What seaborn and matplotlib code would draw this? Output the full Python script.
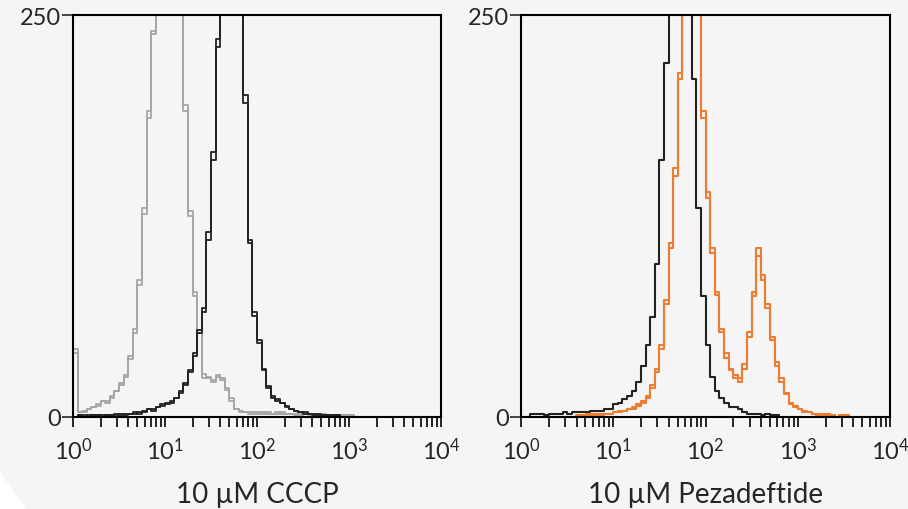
import numpy as np
import pandas as pd
import matplotlib
matplotlib.use("Agg")
import matplotlib.pyplot as plt
import matplotlib.ticker as mticker
from matplotlib.patches import Polygon
import seaborn as sns

# histogram bins are 1/20 decade wide; each series lists counts from its first bin (log10 start)
BIN = 0.05

cccp_gray_start = 0.00
cccp_gray_a = [42, 3, 4, 5, 6, 8, 10, 9, 13, 16, 20, 26, 38, 55, 85, 130, 190, 240, 290, 330,
               340, 320, 290, 260, 190, 125, 75, 52, 24, 25, 22, 26, 24, 18, 12, 5, 4, 3, 3, 2,
               3, 2, 3, 2, 2, 3, 2, 2, 2, 1, 2, 2, 1, 1, 2, 1, 1, 1, 1, 1, 1]
cccp_gray_b = [40, 3, 3, 5, 6, 7, 10, 10, 12, 16, 21, 25, 36, 52, 82, 126, 186, 238, 288, 332,
               342, 322, 292, 258, 194, 128, 78, 54, 27, 24, 23, 25, 23, 17, 10, 5, 3, 3, 2, 3,
               2, 3, 2, 2, 3, 2, 2, 2, 1, 2, 2, 1, 1, 2, 1, 1, 1, 1, 1, 1, 1]

cccp_ctrl_start = 0.05
cccp_ctrl_a = [1, 1, 0, 1, 1, 1, 1, 1, 1, 2, 1, 2, 3, 2, 4, 5, 4, 6, 7, 8,
               9, 12, 15, 20, 28, 38, 52, 65, 110, 160, 230, 290, 330, 345, 335, 300, 200, 110, 65, 48,
               30, 18, 13, 11, 9, 7, 5, 4, 3, 3, 2, 2, 1, 1, 1, 1, 1]
cccp_ctrl_b = [1, 0, 1, 1, 1, 0, 1, 1, 2, 1, 2, 2, 2, 3, 3, 5, 5, 6, 8, 9,
               10, 12, 16, 21, 29, 40, 54, 68, 115, 165, 235, 295, 332, 342, 332, 295, 195, 108, 63, 46,
               29, 19, 12, 10, 9, 6, 5, 4, 3, 2, 2, 1, 2, 1, 1, 0, 1]

pez_ctrl_start = 0.10
pez_ctrl = [2, 2, 2, 1, 2, 2, 2, 3, 2, 3, 3, 3, 3, 4, 4, 4, 5, 5, 8, 9,
            11, 13, 16, 22, 32, 45, 62, 95, 160, 220, 280, 330, 350, 330, 270, 210, 130, 75, 45, 25,
            16, 12, 9, 6, 6, 5, 3, 2, 2, 2, 1, 2, 1, 1]

pez_orange_start = 0.60
pez_orange_a = [1, 1, 2, 1, 2, 1, 2, 2, 3, 3, 4, 5, 5, 7, 9, 12, 18, 28, 42, 70,
                105, 150, 210, 280, 320, 330, 270, 190, 140, 105, 78, 55, 40, 30, 24, 22, 30, 50, 75, 105,
                85, 68, 48, 32, 24, 15, 9, 7, 5, 4, 3, 2, 2, 1, 2, 1, 0, 0, 1]
pez_orange_b = [0, 1, 1, 2, 1, 2, 2, 2, 3, 4, 4, 5, 6, 8, 10, 13, 20, 30, 45, 73,
                108, 155, 214, 284, 322, 326, 266, 186, 136, 102, 76, 53, 37, 29, 26, 24, 33, 53, 78, 100,
                88, 70, 50, 34, 22, 14, 8, 6, 5, 3, 3, 2, 1, 2, 1, 1, 0, 1, 0]

panel_labels = ["10 \u00b5M CCCP", "10 \u00b5M Pezadeftide"]
decade_ticks = [1, 10, 100, 1000, 10000]


def step_frame(start, counts, sample, rep):
    # outline of one histogram: up from zero, across each bin, back down to zero
    n = len(counts)
    edges = 10 ** (start + BIN * np.arange(n + 1))
    x = np.concatenate([[edges[0]], edges[:n], [edges[n]]])
    y = np.concatenate([[0], counts, [0]])
    return pd.DataFrame({"x": x, "count": y, "sample": sample, "rep": rep})


left_df = pd.concat([
    step_frame(cccp_gray_start, cccp_gray_a, "CCCP", "a"),
    step_frame(cccp_gray_start, cccp_gray_b, "CCCP", "b"),
    step_frame(cccp_ctrl_start, cccp_ctrl_a, "control", "a"),
    step_frame(cccp_ctrl_start, cccp_ctrl_b, "control", "b"),
], ignore_index=True)

right_df = pd.concat([
    step_frame(pez_ctrl_start, pez_ctrl, "control", "a"),
    step_frame(pez_orange_start, pez_orange_a, "Pezadeftide", "a"),
    step_frame(pez_orange_start, pez_orange_b, "Pezadeftide", "b"),
], ignore_index=True)

bg = "#f5f5f5"
sns.set_style("ticks")
plt.rcParams["font.family"] = ["Lato", "DejaVu Sans"]
plt.rcParams["mathtext.default"] = "regular"

fig = plt.figure(figsize=(9.08, 5.10), dpi=100, facecolor=bg)
fig.patches.append(Polygon([[0, 0], [0, 0.073], [0.028, 0]], closed=True,
                           transform=fig.transFigure, facecolor="white", edgecolor="none", zorder=0))

ax1 = fig.add_axes([0.0804, 0.1804, 0.4053, 0.7882])
ax2 = fig.add_axes([0.5738, 0.1804, 0.4064, 0.7882])

palette = {"CCCP": "#a6a6a6", "control": "#222222", "Pezadeftide": "#ed7d31"}

sns.lineplot(data=left_df, x="x", y="count", hue="sample", units="rep", estimator=None,
             sort=False, drawstyle="steps-post", palette=palette, linewidth=1.3,
             legend=False, ax=ax1, hue_order=["CCCP", "control"])
sns.lineplot(data=right_df, x="x", y="count", hue="sample", units="rep", estimator=None,
             sort=False, drawstyle="steps-post", palette=palette, linewidth=1.5,
             legend=False, ax=ax2, hue_order=["control", "Pezadeftide"])

for ax, label in zip([ax1, ax2], panel_labels):
    ax.set_facecolor(bg)
    ax.set_xscale("log")
    ax.set_xlim(1, 10000)
    ax.set_ylim(0, 250)
    ax.set_xticks(decade_ticks)
    ax.xaxis.set_major_formatter(mticker.FuncFormatter(lambda v, p: "$10^{%d}$" % round(np.log10(v))))
    ax.xaxis.set_minor_locator(mticker.LogLocator(base=10, subs=np.arange(2, 10), numticks=20))
    ax.xaxis.set_minor_formatter(mticker.NullFormatter())
    ax.set_yticks([0, 250])
    ax.set_yticklabels(["0", "250"])
    ax.tick_params(axis="x", which="both", direction="out", length=7, width=1.2,
                   labelsize=17, pad=7, color="black")
    ax.tick_params(axis="y", direction="out", length=8, width=1.2, labelsize=17, pad=1)
    for s in ax.spines.values():
        s.set_visible(True)
        s.set_linewidth(1.5)
        s.set_color("black")
    ax.set_xlabel(label, fontsize=20, labelpad=13)
    ax.set_ylabel("")

fig.savefig("out.png", dpi=100, facecolor=bg)
